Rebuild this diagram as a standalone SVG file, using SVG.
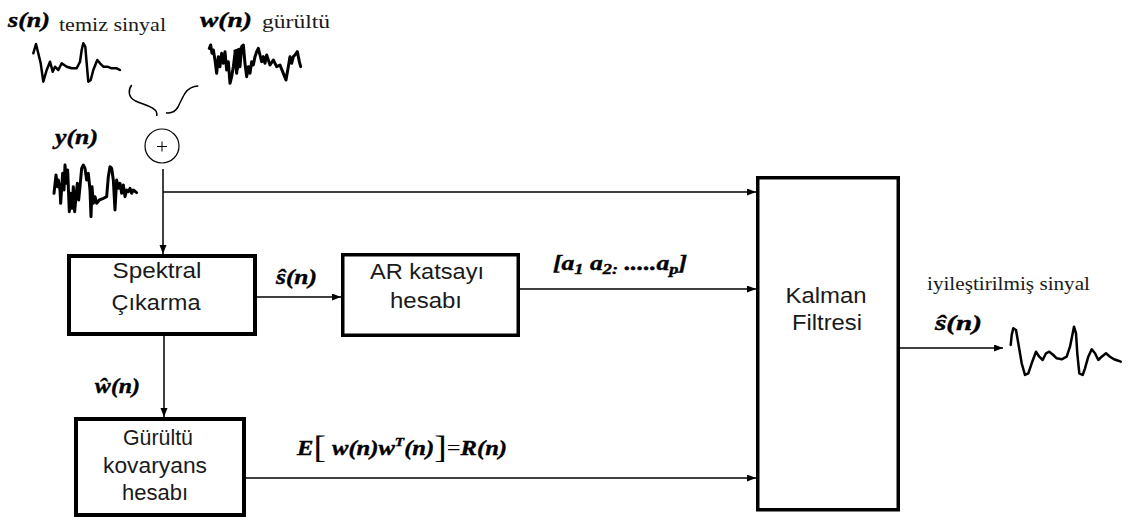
<svg xmlns="http://www.w3.org/2000/svg" width="1128" height="520" viewBox="0 0 1128 520">
<defs>
<style>
.box{fill:#fff;stroke:#000}
.lbl{font-family:"Liberation Sans",Arial,sans-serif;font-size:22px;fill:#1a1a1a;text-anchor:middle}
.math{font-family:"Liberation Serif","Times New Roman",serif;font-weight:bold;font-style:italic;font-size:21px;fill:#000;stroke:#000;stroke-width:0.4}
.ser{font-family:"Liberation Serif","Times New Roman",serif;font-size:19px;fill:#1a1a1a}
.wire{fill:none;stroke:#000;stroke-width:1.5}
.wave{fill:none;stroke:#000;stroke-linejoin:round;stroke-linecap:round}
</style>
<marker id="ah" markerUnits="userSpaceOnUse" markerWidth="10" markerHeight="8" refX="9" refY="3.5" orient="auto">
<path d="M0,0 L9,3.5 L0,7 z" fill="#000"/>
</marker>
</defs>
<rect width="1128" height="520" fill="#fff"/>

<g id="waveforms">
<polyline class="wave" stroke-width="2.5" points="33.3,53.3 36,44 40.7,63.3 43.3,81.7 46.7,70 50,61.7 52.7,71.7 55,66.7 58.3,70 61.7,63.3 66.7,66.7 71.7,68.3 76.7,68.3 80,61.7 81.7,50 83.3,43.3 85.3,46.7 86.7,63.3 88.3,81.7 90.7,80 93.3,70 97.3,60 100,63.3 103.3,66.7 107.3,66.7 111.7,68.3 116.7,68.3 120,70"/>
<g transform="translate(200 30) scale(0.3333)">
<polyline class="wave" stroke-width="9" points="28,55 32,45 36,70 40,60 45,90 50,130 55,80 60,110 65,70 70,100 75,65 80,120 85,95 90,160 95,140 100,110 105,70 110,130 115,60 120,110 125,50 130,45 135,100 140,140 145,110 150,130 155,95 160,105 165,80 170,65 175,55 180,75 185,95 190,80 195,100 200,75 210,105 220,90 230,110 240,105 250,130 258,150 265,110 270,80 275,100 280,80 285,75 292,65 298,95 302,110"/>
<polygon points="100,60 115,55 125,50 120,110 110,130 105,90" fill="#000"/>
</g>
<g transform="translate(40 150) scale(0.3333)">
<polyline class="wave" stroke-width="9" points="42,130 48,75 52,110 55,90 60,120 62,160 68,70 72,120 75,45 80,100 83,60 88,185 92,130 96,175 100,110 104,185 108,140 112,100 116,150 120,110 125,55 130,45 135,55 140,90 145,70 150,120 153,200 156,110 160,160 165,140 170,160 178,150 190,145 200,140 205,80 210,50 215,55 220,90 225,180 230,90 235,115 240,100 245,130 250,105 255,140 260,120 265,125 270,115 275,130 280,120 290,128"/>
</g>
<polyline class="wave" stroke-width="2.5" points="1010.7,345 1011.7,335 1013.3,328.3 1016,330 1018.3,343.3 1021.7,363.3 1025,375 1028.3,373.3 1031.7,363.3 1036,351.7 1039.3,356.7 1042.7,360 1046,353.3 1049.3,351.7 1053.3,355 1056.7,358.3 1061.7,359.3 1066.7,356.7 1070,346.7 1072.7,333.3 1074,326.7 1076,333.3 1077.3,353.3 1079.3,373.3 1082.7,375 1085,368.3 1088.3,356.7 1091.7,349.3 1095,353.3 1098.3,360 1101.7,356.7 1106,353.3 1110,356.7 1114,359.3 1118.3,360.7 1120.7,361.7"/>
</g>

<g id="labels">
<text class="math" x="8" y="27" textLength="42" lengthAdjust="spacingAndGlyphs">s(n)</text>
<text class="ser" x="59" y="31" textLength="107" lengthAdjust="spacingAndGlyphs">temiz sinyal</text>
<text class="math" x="200" y="27" textLength="52" lengthAdjust="spacingAndGlyphs">w(n)</text>
<text class="ser" x="262" y="28" textLength="68" lengthAdjust="spacingAndGlyphs">gürültü</text>
<text class="math" x="55" y="144" textLength="43" lengthAdjust="spacingAndGlyphs">y(n)</text>
<text class="math" x="276" y="284" textLength="41" lengthAdjust="spacingAndGlyphs">ŝ(n)</text>
<text class="math" x="95" y="393" textLength="45" lengthAdjust="spacingAndGlyphs">ŵ(n)</text>
<text class="math" x="553" y="270" font-size="23" textLength="134" lengthAdjust="spacingAndGlyphs">[a<tspan font-size="15" dy="4">1</tspan><tspan dy="-4"> a</tspan><tspan font-size="15" dy="4">2:</tspan><tspan dy="-4"> .....a</tspan><tspan font-size="15" dy="4">p</tspan><tspan dy="-4">]</tspan></text>
<text class="math" x="297" y="455" font-size="22" textLength="210" lengthAdjust="spacingAndGlyphs"><tspan>E</tspan><tspan font-size="32" font-weight="normal" font-style="normal" stroke-width="0" dy="3">[</tspan><tspan dy="-3"> w(n)w</tspan><tspan font-size="13" dy="-9">T</tspan><tspan dy="9">(n)</tspan><tspan font-size="32" font-weight="normal" font-style="normal" stroke-width="0" dy="3">]</tspan><tspan dy="-3" font-weight="normal" font-style="normal" stroke-width="0">=</tspan><tspan>R(n)</tspan></text>
<text class="ser" x="927" y="290" textLength="163" lengthAdjust="spacingAndGlyphs">iyileştirilmiş sinyal</text>
<text class="math" x="935" y="330" textLength="47" lengthAdjust="spacingAndGlyphs">ŝ(n)</text>
</g>

<g id="adder">
<circle cx="162" cy="146" r="17" fill="#fff" stroke="#000" stroke-width="1.2"/>
<path d="M157,146.5 H167 M162,141.5 V151.5" stroke="#000" stroke-width="1"/>
</g>

<g id="spektral">
<rect class="box" x="69" y="256" width="186" height="78" stroke-width="4"/>
<text class="lbl" x="157" y="278" textLength="89" lengthAdjust="spacingAndGlyphs">Spektral</text>
<text class="lbl" x="156" y="310" textLength="89" lengthAdjust="spacingAndGlyphs">Çıkarma</text>
</g>

<g id="ar">
<rect class="box" x="342.75" y="254.75" width="175.5" height="80.5" stroke-width="3.5"/>
<text class="lbl" x="427" y="279" textLength="114" lengthAdjust="spacingAndGlyphs">AR katsayı</text>
<text class="lbl" x="426" y="308" textLength="72" lengthAdjust="spacingAndGlyphs">hesabı</text>
</g>

<g id="gurultu">
<rect class="box" x="76" y="419" width="168" height="96" stroke-width="4"/>
<text class="lbl" x="158" y="445" textLength="70" lengthAdjust="spacingAndGlyphs">Gürültü</text>
<text class="lbl" x="155" y="473" textLength="104" lengthAdjust="spacingAndGlyphs">kovaryans</text>
<text class="lbl" x="155" y="500" textLength="66" lengthAdjust="spacingAndGlyphs">hesabı</text>
</g>

<g id="kalman">
<rect class="box" x="757.75" y="177.75" width="140.5" height="332" stroke-width="3.5"/>
<text class="lbl" x="826" y="303" textLength="81" lengthAdjust="spacingAndGlyphs">Kalman</text>
<text class="lbl" x="827" y="330" textLength="70" lengthAdjust="spacingAndGlyphs">Filtresi</text>
</g>

<g id="connectors">
<path class="wire" stroke-width="1.3" d="M131.7,85 C128,90 128,97 135,100.7 C142,104 150,106 154.3,109.3 C157,111 157,114 156.7,116"/>
<path class="wire" stroke-width="1.3" d="M198.3,86 C192,86 188,89 185,93.3 C182,98 180,103 178,107 C175,112 171,113.5 166,112.7"/>
<path class="wire" d="M163,169 V254" marker-end="url(#ah)"/>
<path class="wire" d="M163,192 H756" marker-end="url(#ah)"/>
<path class="wire" d="M257,297 H341" marker-end="url(#ah)"/>
<path class="wire" d="M520,289 H756" marker-end="url(#ah)"/>
<path class="wire" d="M164,336 V417" marker-end="url(#ah)"/>
<path class="wire" d="M246,478 H756" marker-end="url(#ah)"/>
<path class="wire" d="M900,348 H1003" marker-end="url(#ah)"/>
</g>
</svg>
